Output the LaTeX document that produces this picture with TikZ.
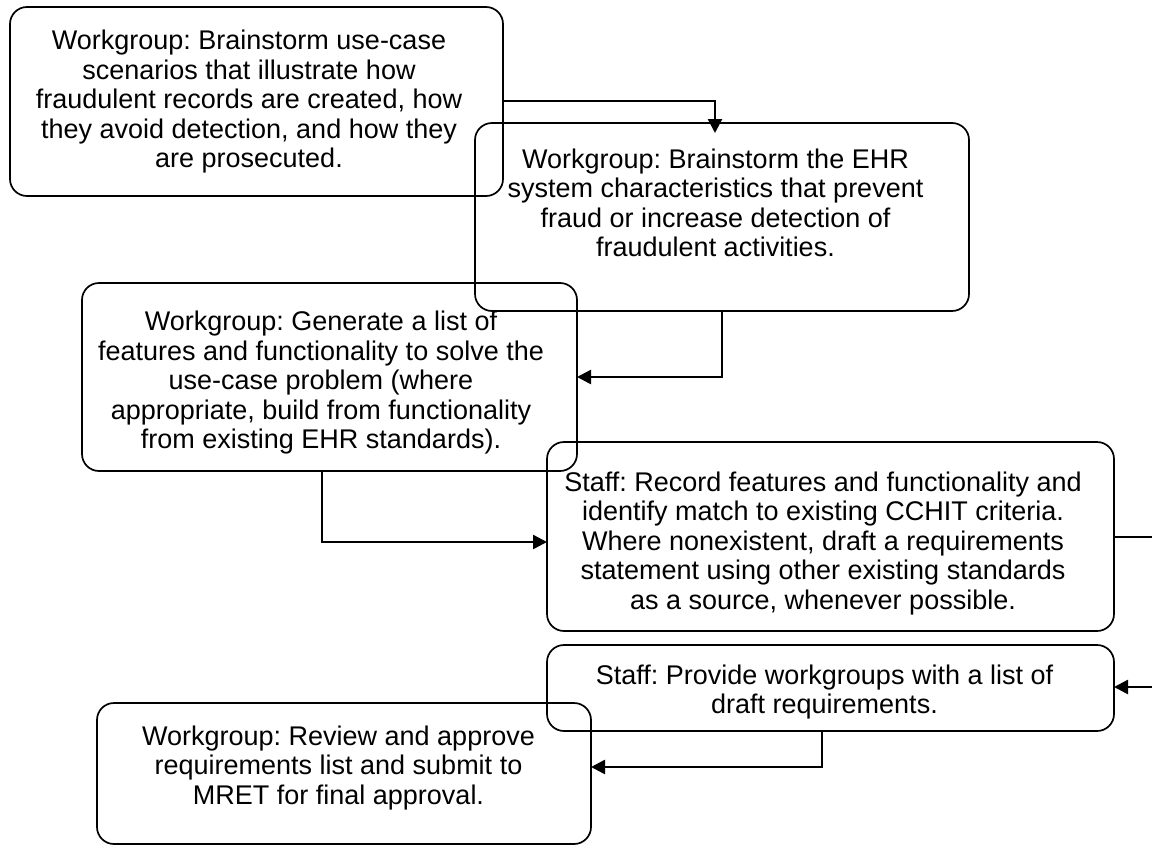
\documentclass[tikz,border=0pt]{standalone}
\usepackage{fontspec}
\setmainfont{Liberation Sans}
\usetikzlibrary{arrows.meta}
\frenchspacing
\tikzset{
  box/.style={draw=black, line width=1.7pt, rounded corners=17pt, inner sep=0pt, outer sep=0pt},
  txt/.style={align=center, inner sep=0pt, font={\fontsize{27}{29.5}\selectfont\frenchspacing}},
  conn/.style={draw=black, line width=2.5pt, -{Triangle[length=14pt,width=14pt]}}
}
\begin{document}
\begin{tikzpicture}[x=1pt,y=-1pt]
\useasboundingbox (0,0) rectangle (1152,846);
\clip (0,0) rectangle (1152,846);
\fill[white] (0,0) rectangle (1152,846);
% boxes
\node[box, minimum width=493pt, minimum height=189pt] (A) at (256.5,101.5) {};
\node[box, minimum width=494pt, minimum height=188pt] (B) at (722,217) {};
\node[box, minimum width=495pt, minimum height=188pt] (C) at (329.5,377) {};
\node[box, minimum width=567pt, minimum height=189pt] (D) at (830.5,536.5) {};
\node[box, minimum width=567pt, minimum height=86pt] (E) at (830.5,688) {};
\node[box, minimum width=494pt, minimum height=141pt] (F) at (344,773.5) {};
% texts
\node[txt] (At) at (249,103) {\strut Workgroup: Brainstorm use-case\\scenarios that illustrate how\\fraudulent records are created, how\\they avoid detection, and how they\\are prosecuted.\strut};
\node[txt] (Bt) at (715.5,206.5) {\strut Workgroup: Brainstorm the EHR\\system characteristics that prevent\\fraud or increase detection of\\fraudulent activities.\strut};
\node[txt] (Ct) at (321,384) {\strut Workgroup: Generate a list of\\features and functionality to solve the\\use-case problem (where\\appropriate, build from functionality\\from existing EHR standards).\strut};
\node[txt] (Dt) at (823,544.5) {\strut Staff: Record features and functionality and\\identify match to existing CCHIT criteria.\\Where nonexistent, draft a requirements\\statement using other existing standards\\as a source, whenever possible.\strut};
\node[txt] (Et) at (824.5,693) {\strut Staff: Provide workgroups with a list of\\draft requirements.\strut};
\node[txt] (Ft) at (338.5,769) {\strut Workgroup: Review and approve\\requirements list and submit to\\MRET for final approval.\strut};
% connectors
\draw[conn] (A.east |- 0,101) -| ([yshift=-10pt]B.north -| 715,0);
\draw[conn] (B.south) |- (C.east |- 0,377);
\draw[conn] (C.south -| 322,0) |- (D.west |- 0,542);
\coordinate (Dout) at (1180,537);
\draw[conn] (D.east |- 0,537) -- (Dout) |- (E.east |- 0,687);
\draw[conn] (E.south -| 822,0) |- (F.east |- 0,767);
\end{tikzpicture}
\end{document}
